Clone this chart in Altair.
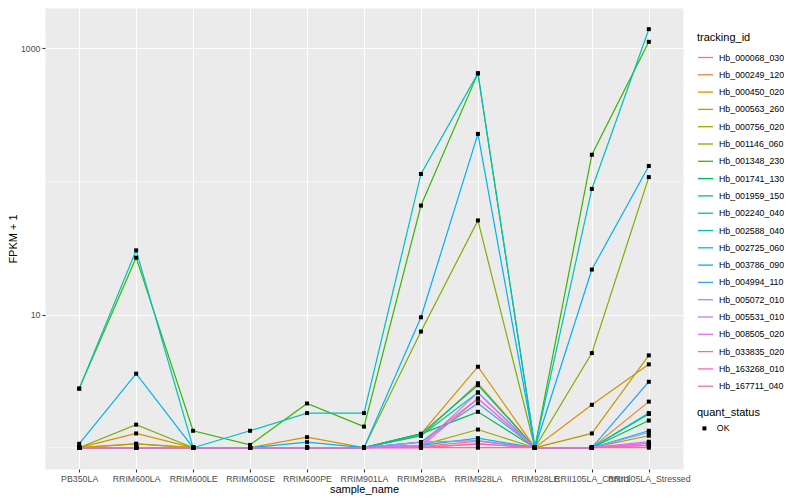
import altair as alt
import pandas as pd

samples = ["PB350LA", "RRIM600LA", "RRIM600LE", "RRIM600SE", "RRIM600PE", "RRIM901LA",
           "RRIM928BA", "RRIM928LA", "RRIM928LE", "RRII105LA_Control", "RRII105LA_Stressed"]

tracking_ids = ["Hb_000068_030", "Hb_000249_120", "Hb_000450_020", "Hb_000563_260", "Hb_000756_020",
                "Hb_001146_060", "Hb_001348_230", "Hb_001741_130", "Hb_001959_150", "Hb_002240_040",
                "Hb_002588_040", "Hb_002725_060", "Hb_003786_090", "Hb_004994_110", "Hb_005072_010",
                "Hb_005531_010", "Hb_008505_020", "Hb_033835_020", "Hb_163268_010", "Hb_167711_040"]

palette = ["#F8766D", "#EA8331", "#D89000", "#C09B00", "#A3A500", "#7CAE00", "#39B600", "#00BB4E",
           "#00BF7D", "#00C1A3", "#00BFC4", "#00BAE0", "#00B0F6", "#35A2FF", "#9590FF", "#C77CFF",
           "#E76BF3", "#FA62DB", "#FF62BC", "#FF6C91"]

# FPKM + 1 per sample (in the order of `samples`)
hb_000068_030 = [1, 1, 1, 1, 1, 1, 1.02, 1.12, 1, 1, 1.08]
hb_000249_120 = [1, 1.07, 1, 1, 1, 1, 1.10, 2.34, 1, 1, 2.22]
hb_000450_020 = [1, 1.28, 1, 1, 1.20, 1, 1.27, 4.06, 1, 2.10, 4.23]
hb_000563_260 = [1, 1.07, 1, 1, 1, 1, 1.23, 3.05, 1, 1.28, 4.94]
hb_000756_020 = [1, 1, 1, 1, 1, 1, 1.04, 1.37, 1, 1, 1.23]
hb_001146_060 = [1, 1.49, 1, 1, 1, 1, 7.46, 51, 1, 5.14, 108]
hb_001348_230 = [2.78, 26.8, 1.34, 1.05, 2.15, 1.44, 66, 650, 1, 159, 1122]
hb_001741_130 = [1, 1, 1, 1, 1, 1, 1.27, 1.86, 1, 1, 1.60]
hb_001959_150 = [1, 1, 1, 1, 1, 1, 1.27, 2.95, 1, 1, 1.79]
hb_002240_040 = [1, 1, 1, 1, 1, 1, 1.23, 2.60, 1, 1, 1.82]
hb_002588_040 = [2.78, 30.4, 1, 1.34, 1.82, 1.82, 114, 650, 1, 88, 1396]
hb_002725_060 = [1, 1, 1, 1, 1, 1, 1.04, 1.18, 1, 1, 1.34]
hb_003786_090 = [1.07, 3.6, 1, 1, 1.10, 1, 9.55, 228, 1, 21.8, 131]
hb_004994_110 = [1, 1, 1, 1, 1, 1, 1.10, 2.16, 1, 1, 3.13]
hb_005072_010 = [1, 1, 1, 1, 1, 1, 1.10, 1.13, 1, 1, 1.30]
hb_005531_010 = [1, 1, 1, 1, 1, 1, 1.04, 2.60, 1, 1, 1.11]
hb_008505_020 = [1, 1, 1, 1, 1, 1, 1.02, 2.34, 1, 1, 1.08]
hb_033835_020 = [1, 1, 1, 1, 1, 1, 1, 1.07, 1, 1, 1.04]
hb_163268_010 = [1, 1, 1, 1, 1, 1, 1, 1.07, 1, 1, 1.04]
hb_167711_040 = [1, 1, 1, 1, 1, 1, 1, 1, 1, 1, 1]

series_values = [hb_000068_030, hb_000249_120, hb_000450_020, hb_000563_260, hb_000756_020,
                 hb_001146_060, hb_001348_230, hb_001741_130, hb_001959_150, hb_002240_040,
                 hb_002588_040, hb_002725_060, hb_003786_090, hb_004994_110, hb_005072_010,
                 hb_005531_010, hb_008505_020, hb_033835_020, hb_163268_010, hb_167711_040]

y_major = [10, 1000]
y_minor = [1, 100]

rows = []
for tid, vals in zip(tracking_ids, series_values):
    for i, (s, v) in enumerate(zip(samples, vals)):
        rows.append({"sample_name": s, "idx": i, "tracking_id": tid, "fpkm": v, "quant_status": "OK"})
df = pd.DataFrame(rows)
grid_df = pd.DataFrame({"fpkm": y_minor})

FONT = "Liberation Sans"
ydomain = [10 ** -0.16, 10 ** 3.304]

x_enc = alt.X("sample_name:N", sort=samples,
              scale=alt.Scale(type="point", padding=0.6),
              axis=alt.Axis(title="sample_name", labelAngle=0, labelOverlap=False, grid=True,
                            gridColor="white", gridWidth=1.1, domain=False,
                            tickColor="#333333", tickSize=3, tickWidth=1.1,
                            labelColor="#4D4D4D", labelFontSize=8.8, labelPadding=2,
                            labelFont=FONT, titleFont=FONT, titleFontSize=11,
                            titleFontWeight="normal", titleColor="black",
                            titleY=20, titleBaseline="middle"))

y_axis = alt.Axis(title="FPKM + 1", values=y_major, format="d", grid=True,
                  gridColor="white", gridWidth=1.1, domain=False,
                  tickColor="#333333", tickSize=3, tickWidth=1.1,
                  labelColor="#4D4D4D", labelFontSize=8.8, labelPadding=2,
                  labelFont=FONT, titleFont=FONT, titleFontSize=11,
                  titleFontWeight="normal", titleColor="black",
                  titleX=-32, titleY=230.5, titleAngle=270, titleAlign="center",
                  titleBaseline="middle")
y_scale = alt.Scale(type="log", domain=ydomain, nice=False)

grid = alt.Chart(grid_df).mark_rule(color="white", strokeWidth=0.55).encode(
    y=alt.Y("fpkm:Q", scale=y_scale, axis=y_axis)
)

lines = alt.Chart(df).mark_line(strokeWidth=1.2).encode(
    x=x_enc,
    y=alt.Y("fpkm:Q", scale=y_scale, axis=y_axis),
    color=alt.Color("tracking_id:N", sort=tracking_ids,
                    scale=alt.Scale(domain=tracking_ids, range=palette),
                    legend=alt.Legend(title="tracking_id", orient="none", legendX=652, legendY=24,
                                      symbolType="stroke", symbolSize=225, symbolStrokeWidth=1.3,
                                      labelFontSize=8.8, labelFont=FONT, labelColor="black",
                                      labelOffset=5, rowPadding=3.3, titleFontSize=11,
                                      titleFont=FONT, titleFontWeight="normal", titleColor="black",
                                      titlePadding=6)),
    order=alt.Order("idx:Q", sort="ascending")
)

points = alt.Chart(df).mark_point(filled=True, color="black", size=16, opacity=1).encode(
    x=x_enc,
    y=alt.Y("fpkm:Q", scale=y_scale, axis=y_axis),
    shape=alt.Shape("quant_status:N", scale=alt.Scale(domain=["OK"], range=["square"]),
                    legend=alt.Legend(title="quant_status", orient="none", legendX=652, legendY=399,
                                      symbolFillColor="black", symbolStrokeColor="black",
                                      symbolSize=16, symbolOffset=3, labelOffset=8,
                                      labelFontSize=8.8, labelFont=FONT, labelColor="black",
                                      titleFontSize=11, titleFont=FONT, titleFontWeight="normal",
                                      titleColor="black", titlePadding=6))
)

chart = alt.layer(grid, lines, points).properties(
    width=638, height=461,
    autosize=alt.AutoSizeParams(type="none"),
    padding={"left": 37, "top": 0, "right": 101, "bottom": 30},
    background="white"
).configure_view(fill="#EBEBEB", stroke="transparent")

chart.save("out.html", embed_options={"renderer": "svg", "actions": False})
